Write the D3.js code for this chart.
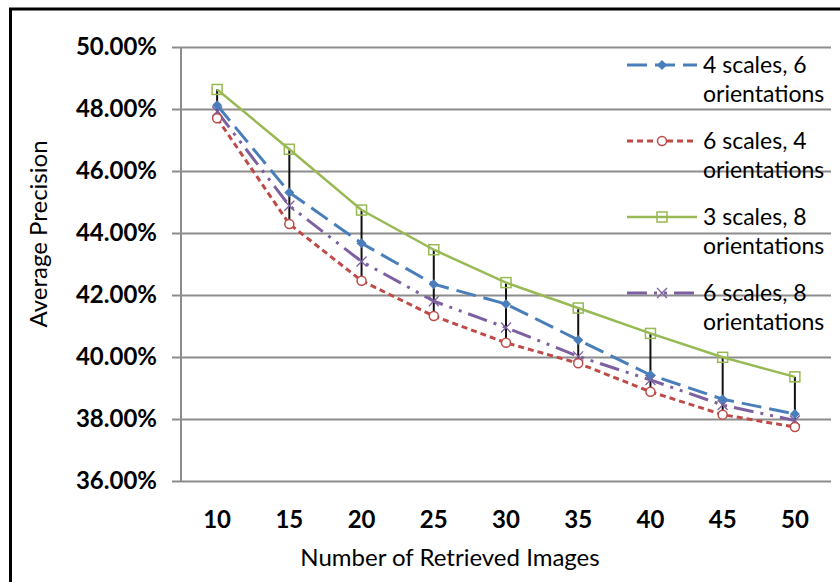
<!DOCTYPE html>
<html>
<head>
<meta charset="utf-8">
<script src="https://cdn.jsdelivr.net/npm/d3@7"></script>
<style>
  body { margin: 0; background: #fff; }
  svg text { font-family: Lato, "Open Sans", sans-serif; fill: #000; }
</style>
</head>
<body>
<main></main>
<script>
// chart values
const categories = [10, 15, 20, 25, 30, 35, 40, 45, 50];
const yTicks = [36, 38, 40, 42, 44, 46, 48, 50];

const s4x6 = [48.12, 45.31, 43.67, 42.35, 41.71, 40.55, 39.42, 38.64, 38.16];
const s6x4 = [47.70, 44.29, 42.46, 41.32, 40.46, 39.80, 38.88, 38.14, 37.74];
const s3x8 = [48.63, 46.70, 44.74, 43.46, 42.40, 41.58, 40.76, 39.99, 39.36];
const s6x8 = [47.92, 44.88, 43.08, 41.80, 40.95, 40.02, 39.26, 38.45, 37.95];

const seriesNames = [
  ["4 scales, 6", "orientations"],
  ["6 scales, 4", "orientations"],
  ["3 scales, 8", "orientations"],
  ["6 scales, 8", "orientations"]
];

const W = 840;
const H = 582;

const series = [
  { name: seriesNames[0], values: s4x6, color: "#4a7ebb", dash: "20,8", marker: "diamond" },
  { name: seriesNames[1], values: s6x4, color: "#be4b48", dash: "6,4", marker: "circle" },
  { name: seriesNames[2], values: s3x8, color: "#98b954", dash: null, marker: "square" },
  { name: seriesNames[3], values: s6x8, color: "#7d60a0", dash: "20,7,3,7,3,7", marker: "x" }
];

const svg = d3
  .select("main")
  .append("svg")
  .attr("width", W)
  .attr("height", H);

// outer frame
svg
  .append("rect")
  .attr("x", 10.5)
  .attr("y", 9)
  .attr("width", 900)
  .attr("height", 700)
  .attr("fill", "none")
  .attr("stroke", "#000")
  .attr("stroke-width", 3);

// scales
const x = d3
  .scaleBand()
  .domain(categories)
  .range([181, 831]);

const y = d3
  .scaleLinear()
  .domain([36, 50])
  .range([481, 47]);

const cx = d => x(d) + x.bandwidth() / 2;

// gridlines
svg
  .append("g")
  .attr("transform", "translate(181,0)")
  .call(d3.axisLeft(y).tickValues(yTicks).tickSize(-650).tickFormat(""))
  .call(g => g.select(".domain").remove())
  .call(g => g.selectAll("line").attr("stroke", "#8c8c8c").attr("stroke-width", 2));

// y axis
svg
  .append("g")
  .attr("transform", "translate(181,0)")
  .call(
    d3
      .axisLeft(y)
      .tickValues(yTicks)
      .tickSize(9)
      .tickPadding(15)
      .tickFormat(d => d.toFixed(2) + "%")
  )
  .call(g => g.select(".domain").attr("stroke", "#8c8c8c").attr("stroke-width", 2).attr("d", "M0,47V481"))
  .call(g => g.selectAll("line").attr("stroke", "#8c8c8c").attr("stroke-width", 2))
  .call(g =>
    g
      .selectAll("text")
      .style("font-family", "Lato, sans-serif")
      .style("font-size", "24px")
      .style("font-weight", "bold")
      .attr("fill", "#000")
  );

// x axis labels
svg
  .append("g")
  .attr("transform", "translate(0,481)")
  .call(d3.axisBottom(x).tickSize(0).tickPadding(30))
  .call(g => g.select(".domain").remove())
  .call(g =>
    g
      .selectAll("text")
      .style("font-family", "Lato, sans-serif")
      .style("font-size", "24px")
      .style("font-weight", "bold")
      .attr("fill", "#000")
  );

// axis titles
svg
  .append("text")
  .attr("x", 450)
  .attr("y", 566)
  .attr("text-anchor", "middle")
  .style("font-size", "24px")
  .text("Number of Retrieved Images");

svg
  .append("text")
  .attr("transform", "translate(47,234) rotate(-90)")
  .attr("text-anchor", "middle")
  .style("font-size", "24px")
  .text("Average Precision");

// high-low lines
svg
  .append("g")
  .selectAll("line")
  .data(categories)
  .enter()
  .append("line")
  .attr("x1", d => cx(d))
  .attr("x2", d => cx(d))
  .attr("y1", (d, i) => y(d3.max(series, s => s.values[i])))
  .attr("y2", (d, i) => y(d3.min(series, s => s.values[i])))
  .attr("stroke", "#111")
  .attr("stroke-width", 2);

// markers
function drawMarker(g, type, color) {
  if (type === "diamond") {
    g.append("path")
      .attr("d", "M0,-5L5,0L0,5L-5,0Z")
      .attr("fill", color);
  } else if (type === "circle") {
    g.append("circle")
      .attr("r", 4.5)
      .attr("fill", "#fff")
      .attr("stroke", color)
      .attr("stroke-width", 1.5);
  } else if (type === "square") {
    g.append("rect")
      .attr("x", -5)
      .attr("y", -5)
      .attr("width", 10)
      .attr("height", 10)
      .attr("fill", "none")
      .attr("stroke", color)
      .attr("stroke-width", 1.5);
  } else if (type === "x") {
    g.append("path")
      .attr("d", "M-5,-5L5,5M5,-5L-5,5")
      .attr("stroke", color)
      .attr("stroke-width", 1.3);
  }
}

const line = d3
  .line()
  .x((d, i) => cx(categories[i]))
  .y(d => y(d));

// series lines (drawn in reverse so blue sits on top)
series
  .slice()
  .reverse()
  .forEach(s => {
    svg
      .append("path")
      .datum(s.values)
      .attr("d", line)
      .attr("fill", "none")
      .attr("stroke", s.color)
      .attr("stroke-width", s.dash ? 3 : 2.5)
      .attr("stroke-dasharray", s.dash);

    s.values.forEach((v, i) => {
      const g = svg
        .append("g")
        .attr("transform", `translate(${cx(categories[i])},${y(v)})`);
      drawMarker(g, s.marker, s.color);
    });
  });

// legend
const legend = svg.append("g");
series.forEach((s, i) => {
  const base = 73 + i * 76;
  legend
    .append("line")
    .attr("x1", 627)
    .attr("x2", 697)
    .attr("y1", base - 8)
    .attr("y2", base - 8)
    .attr("stroke", s.color)
    .attr("stroke-width", s.dash ? 3 : 2.5)
    .attr("stroke-dasharray", s.dash);
  const g = legend.append("g").attr("transform", `translate(662,${base - 8})`);
  drawMarker(g, s.marker, s.color);
  s.name.forEach((t, j) => {
    legend
      .append("text")
      .attr("x", 703)
      .attr("y", base + j * 29)
      .style("font-size", "23px")
      .text(t);
  });
});
</script>
</body>
</html>
